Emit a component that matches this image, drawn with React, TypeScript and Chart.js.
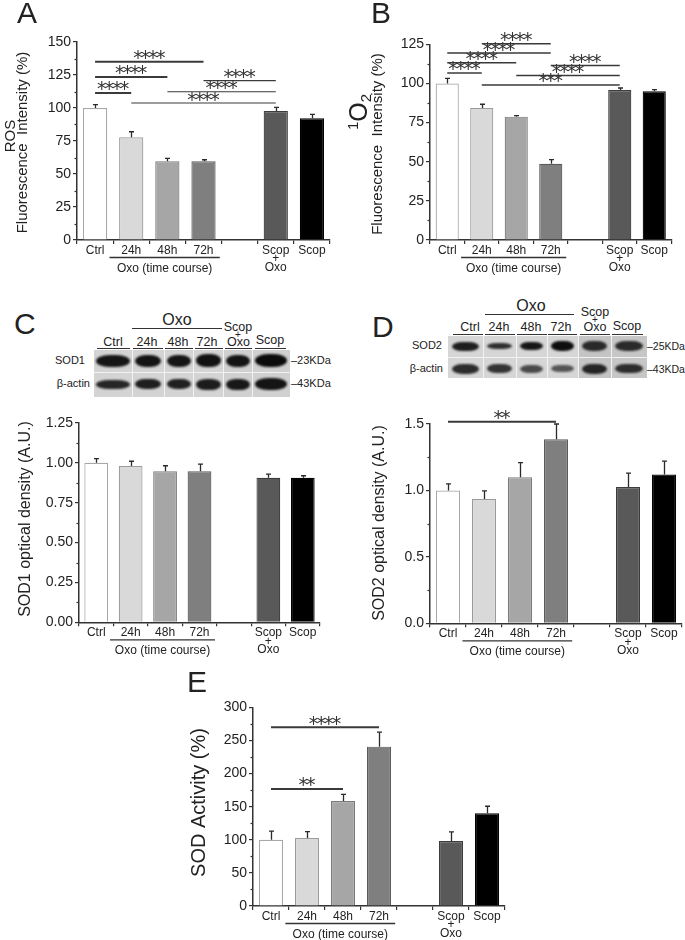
import React, { useEffect, useRef } from 'react';
import { Chart, registerables } from 'chart.js';

Chart.register(...registerables);

const FONT = "'Liberation Sans', Arial, Helvetica, sans-serif";
Chart.defaults.font.family = FONT;
Chart.defaults.color = '#222';

// ---------------- data ----------------
const categories: (string | string[])[] = ['Ctrl', '24h', '48h', '72h', '', ['Scop', '+', 'Oxo'], 'Scop'];
const groupLabel = 'Oxo (time course)';

// A – ROS fluorescence (%)
const rosMean = [100, 77.8, 59.6, 59.6, null, 97.7, 92.2];
const rosSem = [2.5, 4.2, 2.3, 1.2, null, 2.8, 3.0];
const rosTicks = [0, 25, 50, 75, 100, 125, 150];
const rosSig: [number, number, number, string][] = [
  [0, 3, 135.1, '****'], [0, 2, 123.5, '****'], [0, 1, 111.4, '****'],
  [3, 5, 120.7, '****'], [2, 5, 112.3, '****'], [1, 5, 103.8, '****'],
];

// B – singlet oxygen fluorescence (%)
const o2Mean = [100, 84.3, 78.8, 48.7, null, 95.8, 95.0];
const o2Sem = [3.2, 2.4, 0.6, 2.6, null, 1.3, 1.0];
const o2Ticks = [0, 25, 50, 75, 100, 125];
const o2Sig: [number, number, number, string][] = [
  [1, 3, 125.4, '****'], [0, 3, 119.4, '****'], [0, 2, 113.2, '****'], [0, 1, 106.7, '****'],
  [3, 5, 111.5, '****'], [2, 5, 105.1, '****'], [1, 5, 99.0, '***'],
];

// C – SOD1 optical density
const sod1Mean = [1.0, 0.98, 0.947, 0.947, null, 0.906, 0.906];
const sod1Sem = [0.027, 0.03, 0.035, 0.045, null, 0.023, 0.013];
const sod1Ticks = [0, 0.25, 0.5, 0.75, 1.0, 1.25];

// D – SOD2 optical density
const sod2Mean = [1.0, 0.935, 1.1, 1.385, null, 1.025, 1.12];
const sod2Sem = [0.05, 0.062, 0.11, 0.115, null, 0.105, 0.1];
const sod2Ticks = [0, 0.5, 1.0, 1.5];
const sod2Sig: [number, number, number, string][] = [[0, 3, 1.516, '**']];

// E – SOD activity (%)
const actMean = [100, 102.7, 158.6, 240.6, null, 98, 140];
const actSem = [13, 9.5, 10, 22, null, 14, 10.6];
const actTicks = [0, 50, 100, 150, 200, 250, 300];
const actSig: [number, number, number, string][] = [[0, 3, 269.7, '****'], [0, 2, 176.5, '**']];

// ---------------- styles ----------------
const AXIS = '#333';
const TEXT = '#222';
const barFills = ['#ffffff', '#d9d9d9', '#a6a6a6', '#7f7f7f', '#ffffff', '#595959', '#000000'];
const barEdges = ['#a8a8a8', '#9a9a9a', '#7a7a7a', '#5a5a5a', '#ffffff', '#3c3c3c', '#000000'];

type TitlePart = { text: string; size: number; dy: number };
type Title = { parts: TitlePart[]; x: number; cy: number };

interface PanelProps {
  left: number; top: number; width: number; height: number;
  area: [number, number, number, number];
  xAxisH?: number;
  mean: (number | null)[]; sem: (number | null)[];
  yTicks: number[]; decimals: number;
  sig?: [number, number, number, string][];
  sigWidths?: number[];
  titles: Title[];
  barPct: number;
}

function drawStars(ctx: CanvasRenderingContext2D, label: string, cx: number, lineY: number) {
  ctx.save();
  ctx.font = `19px 'DejaVu Sans', sans-serif`;
  ctx.fillStyle = '#333';
  ctx.textAlign = 'center';
  ctx.textBaseline = 'alphabetic';
  const m = ctx.measureText('*');
  const desc = m.actualBoundingBoxDescent || -8;
  const gap = 1.8;
  const by = lineY - gap - desc;
  const step = 7.6;
  const n = label.length;
  for (let i = 0; i < n; i++) {
    const x = cx + (i - (n - 1) / 2) * step;
    ctx.fillText(label[i], x, by);
  }
  ctx.restore();
}

function makeOverlay(p: PanelProps) {
  return {
    id: 'overlay',
    afterDraw(chart: any) {
      const ctx: CanvasRenderingContext2D = chart.ctx;
      const xs = chart.scales.x;
      const ys = chart.scales.y;
      const area = chart.chartArea;
      ctx.save();
      // minor y ticks
      ctx.strokeStyle = AXIS;
      ctx.lineWidth = 1.2;
      for (let i = 0; i < p.yTicks.length - 1; i++) {
        const mid = (p.yTicks[i] + p.yTicks[i + 1]) / 2;
        const y = Math.round(ys.getPixelForValue(mid)) + 0.5;
        ctx.beginPath();
        ctx.moveTo(area.left - 2.5, y);
        ctx.lineTo(area.left, y);
        ctx.stroke();
      }
      // error bars (upper only)
      const meta = chart.getDatasetMeta(0);
      ctx.strokeStyle = '#2a2a2a';
      ctx.lineWidth = 1.3;
      p.mean.forEach((v, i) => {
        const e = p.sem[i];
        if (v == null || e == null) return;
        const x = Math.round(meta.data[i].x) + 0.5;
        const y0 = ys.getPixelForValue(v);
        const y1 = ys.getPixelForValue(v + e);
        ctx.beginPath();
        ctx.moveTo(x, y0);
        ctx.lineTo(x, y1);
        ctx.moveTo(x - 2.5, y1);
        ctx.lineTo(x + 2.5, y1);
        ctx.stroke();
      });
      // significance brackets
      (p.sig || []).forEach((s, k) => {
        const [a, b, level, label] = s;
        const x1 = xs.getPixelForValue(a);
        const x2 = xs.getPixelForValue(b);
        const y = ys.getPixelForValue(level);
        ctx.strokeStyle = '#3a3a3a';
        ctx.lineWidth = (p.sigWidths && p.sigWidths[k]) || 1.5;
        ctx.beginPath();
        ctx.moveTo(x1, y);
        ctx.lineTo(x2, y);
        ctx.stroke();
        drawStars(ctx, label, (x1 + x2) / 2, y - ctx.lineWidth / 2);
      });
      // group underline + label
      const slot = xs.getPixelForValue(1) - xs.getPixelForValue(0);
      const gx1 = xs.getPixelForValue(1) - 0.6 * slot;
      const gx2 = xs.getPixelForValue(3) + 0.45 * slot;
      const gy = area.bottom + 17.5;
      ctx.strokeStyle = AXIS;
      ctx.lineWidth = 1.3;
      ctx.beginPath();
      ctx.moveTo(gx1, gy);
      ctx.lineTo(gx2, gy);
      ctx.stroke();
      ctx.fillStyle = TEXT;
      ctx.font = `12px ${FONT}`;
      ctx.textAlign = 'center';
      ctx.textBaseline = 'middle';
      ctx.fillText(groupLabel, (gx1 + gx2) / 2, area.bottom + 28.5);
      // rotated y titles
      p.titles.forEach((t) => {
        ctx.save();
        ctx.translate(t.x, t.cy);
        ctx.rotate(-Math.PI / 2);
        ctx.textAlign = 'left';
        ctx.textBaseline = 'alphabetic';
        let total = 0;
        t.parts.forEach((pt) => {
          ctx.font = `${pt.size}px ${FONT}`;
          total += ctx.measureText(pt.text).width;
        });
        let cur = -total / 2;
        t.parts.forEach((pt) => {
          ctx.font = `${pt.size}px ${FONT}`;
          ctx.fillText(pt.text, cur, pt.dy);
          cur += ctx.measureText(pt.text).width;
        });
        ctx.restore();
      });
      ctx.restore();
    },
  };
}

function BarPanel(p: PanelProps) {
  const ref = useRef<HTMLCanvasElement>(null);
  useEffect(() => {
    const [al, at, ar, ab] = p.area;
    const xAxisH = p.xAxisH || 40;
    const chart = new Chart(ref.current as HTMLCanvasElement, {
      type: 'bar',
      data: {
        labels: categories as any,
        datasets: [{
          data: p.mean as any,
          backgroundColor: barFills,
          borderColor: barEdges,
          borderWidth: 1.2,
          barPercentage: p.barPct,
          categoryPercentage: 1,
        }],
      },
      options: {
        responsive: false,
        animation: false,
        devicePixelRatio: 1,
        events: [],
        layout: { padding: { left: 0, top: at, right: p.width - ar, bottom: Math.max(0, p.height - ab - xAxisH) } },
        plugins: { legend: { display: false }, tooltip: { enabled: false } },
        scales: {
          x: {
            type: 'category',
            offset: true,
            grid: { offset: true, drawOnChartArea: false, drawTicks: true, tickLength: 4, color: AXIS, lineWidth: 1.2 },
            border: { display: true, color: AXIS, width: 1.5 },
            ticks: { autoSkip: false, maxRotation: 0, minRotation: 0, padding: 2, color: TEXT, font: { size: 12, lineHeight: 0.72 } },
            afterFit: (s: any) => { s.height = xAxisH; },
          },
          y: {
            type: 'linear',
            min: p.yTicks[0],
            max: p.yTicks[p.yTicks.length - 1],
            grid: { drawOnChartArea: false, drawTicks: true, tickLength: 4, color: AXIS, lineWidth: 1.2 },
            border: { display: true, color: AXIS, width: 1.5 },
            ticks: {
              padding: 2,
              color: TEXT,
              font: { size: 14 },
              callback: (v: any) => Number(v).toFixed(p.decimals),
            },
            afterBuildTicks: (s: any) => { s.ticks = p.yTicks.map((v) => ({ value: v })); },
            afterFit: (s: any) => { s.width = al; },
          },
        },
      },
      plugins: [makeOverlay(p)],
    } as any);
    return () => chart.destroy();
  }, []);
  return (
    <div style={{ position: 'absolute', left: p.left, top: p.top, width: p.width, height: p.height }}>
      <canvas ref={ref} width={p.width} height={p.height} style={{ width: p.width, height: p.height }} />
    </div>
  );
}

function Txt(props: { x: number; y: number; size: number; align?: 'left' | 'center' | 'right'; children: React.ReactNode }) {
  const { x, y, size, align = 'center', children } = props;
  const tx = align === 'center' ? '-50%' : align === 'right' ? '-100%' : '0';
  return (
    <div style={{
      position: 'absolute', left: x, top: y - 0.8465 * size, fontSize: size, lineHeight: `${size}px`,
      transform: `translateX(${tx})`, whiteSpace: 'nowrap', color: TEXT, fontFamily: FONT,
    }}>{children}</div>
  );
}

function Rect(props: { x: number; y: number; w: number; h: number; c: string; style?: React.CSSProperties }) {
  return <div style={{ position: 'absolute', left: props.x, top: props.y, width: props.w, height: props.h, background: props.c, ...(props.style || {}) }} />;
}

type Lane = [number, number];
function Blot(props: {
  x0: number; x1: number; y0: number; y1: number; ySplit: number; lanes: Lane[]; bg: string[];
  topY: number; topH: number[]; topC: string[]; botY: number; botH: number[]; botC: string[]; margin: number;
}) {
  const { x0, x1, y0, y1, ySplit, lanes, bg, topY, topH, topC, botY, botH, botC, margin } = props;
  return (
    <div>
      {lanes.map((ln, i) => (
        <Rect key={'bg' + i} x={ln[0]} y={y0} w={ln[1] - ln[0]} h={y1 - y0} c={bg[i]} />
      ))}
      {lanes.map((ln, i) => (
        <Rect key={'t' + i} x={ln[0] + margin} y={topY - topH[i] / 2} w={ln[1] - ln[0] - 2 * margin} h={topH[i]} c={topC[i]}
          style={{ borderRadius: '40% / 50%', filter: 'blur(1.1px)' }} />
      ))}
      {lanes.map((ln, i) => (
        <Rect key={'b' + i} x={ln[0] + margin} y={botY - botH[i] / 2} w={ln[1] - ln[0] - 2 * margin} h={botH[i]} c={botC[i]}
          style={{ borderRadius: '40% / 50%', filter: 'blur(1.1px)' }} />
      ))}
      {lanes.slice(1).map((ln, i) => (
        <Rect key={'v' + i} x={ln[0] - 0.5} y={y0} w={1} h={y1 - y0} c="#f2f2f2" />
      ))}
      <Rect x={x0} y={ySplit - 0.5} w={x1 - x0} h={1.2} c="#f2f2f2" />
    </div>
  );
}

function Underlines(props: { segs: Lane[]; y: number }) {
  return (
    <div>
      {props.segs.map((s, i) => <Rect key={i} x={s[0]} y={props.y} w={s[1] - s[0]} h={1.3} c={AXIS} />)}
    </div>
  );
}

export default function App() {
  const fl = 'Fluorescence  Intensity (%)';
  const cLanes: Lane[] = [[93.5, 132.3], [132.3, 164], [164, 193.3], [193.3, 223.3], [223.3, 252.7], [252.7, 290]];
  const dLanes: Lane[] = [[448, 483], [483, 516], [516, 547], [547, 578], [578, 611], [611, 647]];
  return (
    <div style={{ position: 'absolute', left: 0, top: 0, width: 685, height: 940, background: '#fff', overflow: 'hidden', fontFamily: FONT }}>
      {/* Panel A */}
      <BarPanel left={0} top={0} width={340} height={290} area={[77, 42, 330, 240]}
        mean={rosMean} sem={rosSem} yTicks={rosTicks} decimals={0}
        sig={rosSig} sigWidths={[2, 2, 2, 1.2, 1.2, 1.2]} barPct={0.67}
        titles={[
          { parts: [{ text: 'ROS', size: 15, dy: 0 }], x: 15, cy: 136 },
          { parts: [{ text: fl, size: 15, dy: 0 }], x: 26.5, cy: 142.5 },
        ]} />
      {/* Panel B */}
      <BarPanel left={340} top={0} width={345} height={290} area={[90, 44.3, 331.5, 240]}
        mean={o2Mean} sem={o2Sem} yTicks={o2Ticks} decimals={0}
        sig={o2Sig} sigWidths={[1.5, 1.5, 1.5, 1.5, 1.5, 1.5, 1.5]} barPct={0.67}
        titles={[
          { parts: [{ text: '1', size: 15, dy: -9 }, { text: 'O', size: 25, dy: 0 }, { text: '2', size: 15, dy: 4 }], x: 26.5, cy: 112 },
          { parts: [{ text: fl, size: 15, dy: 0 }], x: 41.5, cy: 144 },
        ]} />
      {/* Panel C */}
      <BarPanel left={0} top={400} width={340} height={275} area={[79, 23, 320, 222.3]}
        mean={sod1Mean} sem={sod1Sem} yTicks={sod1Ticks} decimals={2} barPct={0.69}
        titles={[{ parts: [{ text: 'SOD1 optical density (A.U.)', size: 16, dy: 0 }], x: 29.5, cy: 119 }]} />
      {/* Panel D */}
      <BarPanel left={340} top={400} width={345} height={275} area={[90, 24, 342, 223.3]}
        mean={sod2Mean} sem={sod2Sem} yTicks={sod2Ticks} decimals={1}
        sig={sod2Sig} sigWidths={[2]} barPct={0.67}
        titles={[{ parts: [{ text: 'SOD2 optical density (A.U.)', size: 16, dy: 0 }], x: 44, cy: 123 }]} />
      {/* Panel E */}
      <BarPanel left={170} top={690} width={345} height={250} area={[83, 17.3, 335, 216]} xAxisH={34}
        mean={actMean} sem={actSem} yTicks={actTicks} decimals={0}
        sig={actSig} sigWidths={[2, 2]} barPct={0.67}
        titles={[{ parts: [{ text: 'SOD Activity (%)', size: 20, dy: 0 }], x: 34.5, cy: 112.5 }]} />

      {/* Panel letters */}
      <Txt x={17} y={23.5} size={30} align="left">A</Txt>
      <Txt x={371} y={23.5} size={30} align="left">B</Txt>
      <Txt x={14} y={334} size={30} align="left">C</Txt>
      <Txt x={372} y={337} size={30} align="left">D</Txt>
      <Txt x={187} y={692} size={30} align="left">E</Txt>

      {/* Blot C */}
      <Txt x={177} y={326} size={16}>Oxo</Txt>
      <Rect x={132} y={327.7} w={90} h={1.3} c={AXIS} />
      <Txt x={238} y={331.5} size={12.5}>Scop</Txt>
      <Txt x={238} y={338} size={10}>+</Txt>
      <Txt x={238.5} y={346.5} size={12.5}>Oxo</Txt>
      <Txt x={113} y={346.5} size={12.5}>Ctrl</Txt>
      <Txt x={147} y={346.5} size={12.5}>24h</Txt>
      <Txt x={178} y={346.5} size={12.5}>48h</Txt>
      <Txt x={207} y={346.5} size={12.5}>72h</Txt>
      <Txt x={270} y={345} size={12.5}>Scop</Txt>
      <Underlines y={347.7} segs={[[97, 130], [133, 163], [165, 193], [195, 223], [225, 252], [255, 286]]} />
      <Blot x0={93.5} x1={290} y0={349.5} y1={396.5} ySplit={372.5} lanes={cLanes}
        bg={['#d4d4d4', '#d4d4d4', '#d4d4d4', '#d4d4d4', '#d0d0d0', '#d0d0d0']}
        topY={360.5} topH={[12, 12, 12, 12.5, 12, 13]} topC={['#161616', '#141414', '#151515', '#121212', '#141414', '#0c0c0c']}
        botY={384} botH={[9, 10.5, 10, 11, 11, 12]} botC={['#262626', '#1e1e1e', '#202020', '#1c1c1c', '#181818', '#141414']}
        margin={2.5} />
      <Txt x={85} y={364} size={11} align="right">SOD1</Txt>
      <Txt x={90} y={387.5} size={11} align="right">β-actin</Txt>
      <Txt x={291} y={364} size={11} align="left">–23KDa</Txt>
      <Txt x={291} y={387.5} size={11} align="left">–43KDa</Txt>

      {/* Blot D */}
      <Txt x={531} y={312} size={16}>Oxo</Txt>
      <Rect x={485} y={313.5} w={89} h={1.3} c={AXIS} />
      <Txt x={595} y={316.5} size={12.5}>Scop</Txt>
      <Txt x={595} y={323} size={10}>+</Txt>
      <Txt x={595} y={332} size={12.5}>Oxo</Txt>
      <Txt x={470} y={332} size={12.5}>Ctrl</Txt>
      <Txt x={499} y={332} size={12.5}>24h</Txt>
      <Txt x={531} y={332} size={12.5}>48h</Txt>
      <Txt x={561} y={332} size={12.5}>72h</Txt>
      <Txt x={627} y={331} size={12.5}>Scop</Txt>
      <Underlines y={333.5} segs={[[453, 483], [485, 515], [517, 547], [548, 577], [580, 610], [612, 643]]} />
      <Blot x0={448} x1={647} y0={336} y1={378} ySplit={357} lanes={dLanes}
        bg={['#d6d6d6', '#d6d6d6', '#d6d6d6', '#d6d6d6', '#c4c4c4', '#c6c6c6']}
        topY={346} topH={[9, 6.5, 8.5, 10, 10, 10]} topC={['#1e1e1e', '#2e2e2e', '#161616', '#0e0e0e', '#2a2a2a', '#2a2a2a']}
        botY={368.5} botH={[10, 9, 8, 7.5, 10, 9.5]} botC={['#2c2c2c', '#333333', '#4a4a4a', '#555555', '#242424', '#2c2c2c']}
        margin={4} />
      <Txt x={442} y={349.5} size={11} align="right">SOD2</Txt>
      <Txt x={443} y={372.5} size={11} align="right">β-actin</Txt>
      <Txt x={647} y={349.5} size={10.5} align="left">–25KDa</Txt>
      <Txt x={647} y={372.5} size={10.5} align="left">–43KDa</Txt>
    </div>
  );
}
